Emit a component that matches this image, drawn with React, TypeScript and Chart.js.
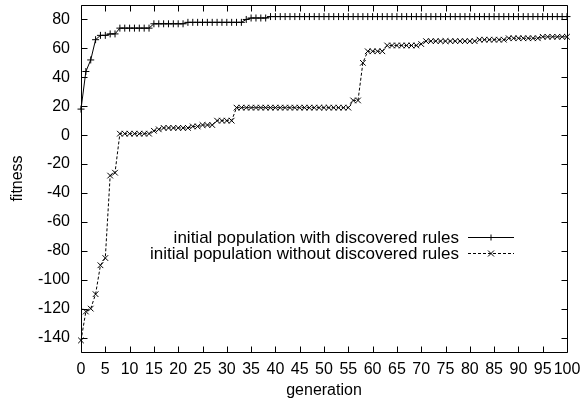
import React, { useEffect, useRef } from "react";
import { Chart, registerables } from "chart.js";

Chart.register(...registerables);

// generation index 0..100
const generations: number[] = Array.from({ length: 101 }, (_, i) => i);

// fitness, initial population WITH discovered rules (gen 0..100)
const withRules: number[] = [
  18, 44, 52, 66, 69, 69, 70, 70,
  74, 74, 74, 74, 74, 74, 74,
  77, 77, 77, 77, 77, 77, 77,
  78, 78, 78, 78, 78, 78, 78, 78, 78, 78, 78, 78,
  80,
  81, 81, 81, 81,
  82, 82, 82, 82, 82, 82, 82, 82, 82, 82,
  82, 82, 82, 82, 82, 82, 82, 82, 82, 82,
  82, 82, 82, 82, 82, 82, 82, 82, 82, 82,
  82, 82, 82, 82, 82, 82, 82, 82, 82, 82,
  82, 82, 82, 82, 82, 82, 82, 82, 82, 82,
  82, 82, 82, 82, 82, 82, 82, 82, 82, 82,
  82, 82,
];

// fitness, initial population WITHOUT discovered rules (gen 0..100)
const withoutRules: number[] = [
  -142, -122, -120, -110, -90, -85, -28, -26,
  1, 1, 1, 1, 1, 1, 1,
  3, 4,
  5, 5, 5, 5, 5, 5,
  6, 6,
  7, 7, 7,
  10, 10, 10, 10,
  19, 19, 19, 19, 19, 19, 19, 19, 19, 19, 19, 19,
  19, 19, 19, 19, 19, 19, 19, 19, 19, 19, 19, 19,
  24, 24,
  50,
  58, 58, 58, 58,
  62, 62, 62, 62, 62, 62, 62,
  63,
  65, 65, 65, 65, 65, 65, 65, 65, 65, 65, 65,
  66, 66, 66, 66, 66, 66,
  67, 67, 67, 67, 67, 67, 67,
  68, 68, 68, 68, 68, 68,
];

const xTicks: number[] = [0, 5, 10, 15, 20, 25, 30, 35, 40, 45, 50, 55, 60, 65, 70, 75, 80, 85, 90, 95, 100];
const yTicks: number[] = [-140, -120, -100, -80, -60, -40, -20, 0, 20, 40, 60, 80];

const seriesLabels: string[] = [
  "initial population with discovered rules",
  "initial population without discovered rules",
];
const xTitle = "generation";
const yTitle = "fitness";

const FONT = "'Liberation Sans', Arial, Helvetica, sans-serif";

const framePlugin = {
  id: "gnuplotFrame",
  afterDraw(chart: any) {
    const { ctx, chartArea: a, scales } = chart;
    ctx.save();
    ctx.strokeStyle = "#000";
    ctx.lineWidth = 1;
    ctx.setLineDash([]);
    const L = Math.round(a.left) + 0.5;
    const R = Math.round(a.right) + 0.5;
    const T = Math.round(a.top) + 0.5;
    const B = Math.round(a.bottom) + 0.5;
    ctx.beginPath();
    ctx.rect(L, T, R - L, B - T);
    const tl = 6;
    xTicks.forEach((v) => {
      const px = Math.round(scales.x.getPixelForValue(v)) + 0.5;
      ctx.moveTo(px, B);
      ctx.lineTo(px, B - tl);
      ctx.moveTo(px, T);
      ctx.lineTo(px, T + tl);
    });
    yTicks.forEach((v) => {
      const py = Math.round(scales.y.getPixelForValue(v)) + 0.5;
      ctx.moveTo(L, py);
      ctx.lineTo(L + tl, py);
      ctx.moveTo(R, py);
      ctx.lineTo(R - tl, py);
    });
    ctx.stroke();

    // key (legend), gnuplot style: text then sample
    ctx.font = `17px ${FONT}`;
    ctx.fillStyle = "#000";
    ctx.textAlign = "right";
    ctx.textBaseline = "middle";
    const textRight = 459;
    const rows = [237, 253];
    const sx0 = 468;
    const sx1 = 514;
    chart.data.datasets.forEach((ds: any, i: number) => {
      const y = rows[i] + 0.5;
      ctx.fillText(ds.label, textRight, rows[i] + 1);
      ctx.beginPath();
      ctx.setLineDash(ds.borderDash || []);
      ctx.moveTo(sx0, y);
      ctx.lineTo(sx1, y);
      ctx.stroke();
      ctx.setLineDash([]);
      const mx = (sx0 + sx1) / 2;
      ctx.beginPath();
      if (i === 0) {
        ctx.moveTo(mx - 3, y);
        ctx.lineTo(mx + 3, y);
        ctx.moveTo(mx, y - 3);
        ctx.lineTo(mx, y + 3);
      } else {
        ctx.moveTo(mx - 3, y - 3);
        ctx.lineTo(mx + 3, y + 3);
        ctx.moveTo(mx + 3, y - 3);
        ctx.lineTo(mx - 3, y + 3);
      }
      ctx.stroke();
    });
    ctx.restore();
  },
};

export default function App() {
  const canvasRef = useRef<HTMLCanvasElement | null>(null);

  useEffect(() => {
    if (!canvasRef.current) return;
    const chart = new Chart(canvasRef.current, {
      type: "line",
      data: {
        datasets: [
          {
            label: seriesLabels[0],
            data: generations.map((g, i) => ({ x: g, y: withRules[i] })),
            borderColor: "#000",
            backgroundColor: "#000",
            borderWidth: 1,
            pointStyle: "cross",
            pointRadius: 3.5,
            pointBorderWidth: 1,
            pointBorderColor: "#000",
            tension: 0,
            clip: false,
          } as any,
          {
            label: seriesLabels[1],
            data: generations.map((g, i) => ({ x: g, y: withoutRules[i] })),
            borderColor: "#000",
            backgroundColor: "#000",
            borderWidth: 1,
            borderDash: [3, 2],
            pointStyle: "crossRot",
            pointRadius: 4,
            pointBorderWidth: 1,
            pointBorderColor: "#000",
            tension: 0,
            clip: false,
          } as any,
        ],
      },
      options: {
        animation: false,
        responsive: true,
        maintainAspectRatio: false,
        layout: { padding: { top: 4, right: 17, left: 0, bottom: 0 } },
        plugins: {
          legend: { display: false },
          tooltip: { enabled: false },
        },
        scales: {
          x: {
            type: "linear",
            min: 0,
            max: 100,
            grid: { display: false, drawTicks: false },
            border: { display: false },
            afterBuildTicks: (axis: any) => {
              axis.ticks = xTicks.map((v) => ({ value: v }));
            },
            afterFit: (axis: any) => {
              axis.height = 54;
              axis.paddingLeft = 0;
              axis.paddingRight = 0;
            },
            ticks: {
              autoSkip: false,
              maxRotation: 0,
              minRotation: 0,
              padding: 8,
              color: "#000",
              font: { family: FONT, size: 16 },
            },
            title: {
              display: true,
              text: xTitle,
              color: "#000",
              font: { family: FONT, size: 16 },
              padding: { top: 0, bottom: 6 },
            },
          },
          y: {
            type: "linear",
            min: -150,
            max: 90,
            grid: { display: false, drawTicks: false },
            border: { display: false },
            afterBuildTicks: (axis: any) => {
              axis.ticks = yTicks.map((v) => ({ value: v }));
            },
            afterFit: (axis: any) => {
              axis.width = 81;
              axis.paddingTop = 0;
              axis.paddingBottom = 0;
            },
            ticks: {
              autoSkip: false,
              padding: 11,
              color: "#000",
              font: { family: FONT, size: 16 },
            },
            title: {
              display: true,
              text: yTitle,
              color: "#000",
              font: { family: FONT, size: 16 },
              padding: { top: 8, bottom: 0 },
            },
          },
        },
      },
      plugins: [framePlugin],
    } as any);
    return () => chart.destroy();
  }, []);

  return (
    <div style={{ position: "fixed", left: 0, top: 0, width: 584, height: 406, background: "#fff" }}>
      <canvas ref={canvasRef} />
    </div>
  );
}
